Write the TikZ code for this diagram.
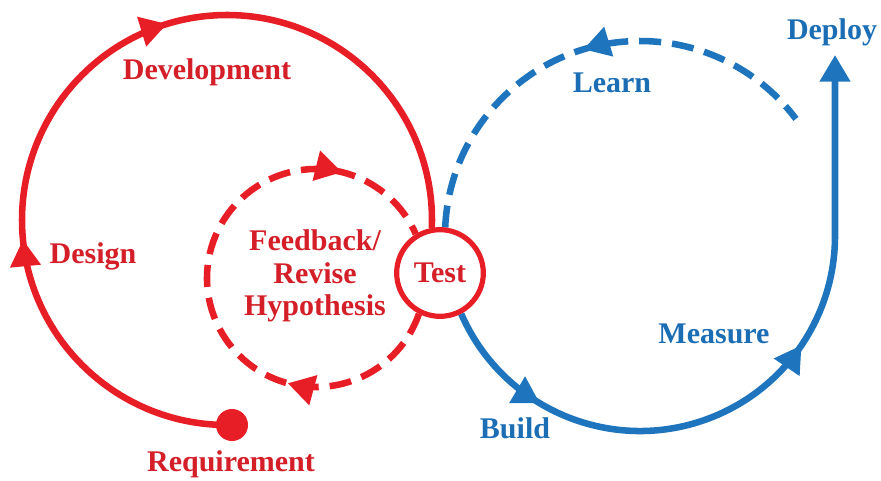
\documentclass[tikz,border=0pt]{standalone}
\usepackage{fontspec}
\setmainfont{Liberation Serif}
\usetikzlibrary{arrows.meta,decorations.markings,calc}
\definecolor{rline}{RGB}{232,30,38}
\definecolor{rtext}{RGB}{212,30,40}
\definecolor{bline}{RGB}{30,117,190}
\definecolor{btext}{RGB}{28,110,180}
\tikzset{tri/.tip={Triangle[length=20pt,width=22pt]}}
\begin{document}
\begin{tikzpicture}[x=0.75pt,y=-0.75pt,
  lbl/.style={font=\fontsize{22.5}{24.4}\selectfont\bfseries, inner sep=0pt},
  redlbl/.style={lbl,text=rtext},
  bluelbl/.style={lbl,text=btext},
  solidline/.style={line width=4.9pt},
  dashline/.style={line width=4.9pt, dash pattern=on 16.5pt off 8.25pt},
  testnode/.style={circle, draw=rline, line width=3.9pt, fill=white,
    minimum size=65pt, inner sep=0pt, text=rtext,
    font=\fontsize{22.5}{24.4}\selectfont\bfseries},
  dotnode/.style={circle, fill=rline, minimum size=24pt, inner sep=0pt}
]
\useasboundingbox (0,0) rectangle (881,481);
\coordinate (c1) at (227,220);
\coordinate (c2) at (316,278);
\coordinate (c3) at (640,236);
\coordinate (deploytip) at (835,55);

% big red loop
\draw[rline, solidline, postaction={decorate, decoration={markings,
    mark=at position 0.314 with {\arrow{tri}},
    mark=at position 0.601 with {\arrow{tri}}}}]
  ($(c1)+(88.6:205)$) arc[start angle=88.6, end angle=362.2, radius=205];

% dashed red loop
\draw[rline, dashline, postaction={decorate, decoration={markings,
    mark=at position 0.271 with {\pgfsetdash{}{0pt}\arrow{tri}},
    mark=at position 0.835 with {\pgfsetdash{}{0pt}\arrow{tri}}}}]
  ($(c2)+(19.2:109)$) arc[start angle=19.2, end angle=336.2, radius=109];

% blue solid path
\draw[bline, solidline, -{tri}, postaction={decorate, decoration={markings,
    mark=at position 0.170 with {\arrow{tri}},
    mark=at position 0.584 with {\arrow{tri}}}}]
  ($(c3)+(156.5:195)$) arc[start angle=156.5, end angle=0, radius=195] -- (deploytip);

% blue dashed path
\draw[bline, dashline, postaction={decorate, decoration={markings,
    mark=at position 0.502 with {\pgfsetdash{}{0pt}\arrowreversed{tri}}}}]
  ($(c3)+(182.5:195)$) arc[start angle=182.5, end angle=323.1, radius=195];

\node[dotnode] (req) at (232,425) {};
\node[testnode] (test) at (440,273) {Test};

\node[redlbl, anchor=base] (dev) at (207,80) {Development};
\node[redlbl, anchor=base] (des) at (93,263) {Design};
\node[redlbl, align=center] (fb) at (315,276) {Feedback/\\Revise\\Hypothesis};
\node[redlbl, anchor=base] (reqlbl) at (231,471) {Requirement};
\node[bluelbl, anchor=base] (learn) at (612,93) {Learn};
\node[bluelbl, anchor=base] (deploy) at (832,40) {Deploy};
\node[bluelbl, anchor=base] (measure) at (714,343) {Measure};
\node[bluelbl, anchor=base] (build) at (515,438) {Build};
\end{tikzpicture}
\end{document}
